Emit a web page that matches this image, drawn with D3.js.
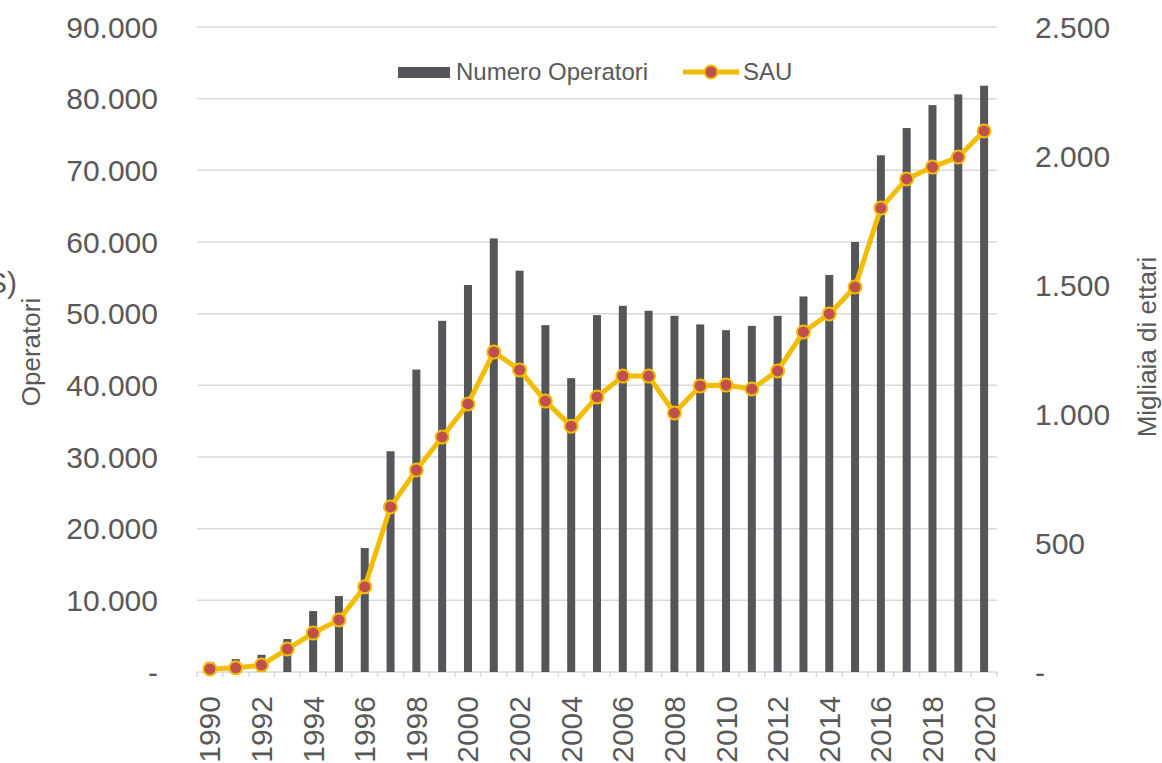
<!DOCTYPE html>
<html>
<head>
<meta charset="utf-8">
<script src="https://cdn.jsdelivr.net/npm/d3@7"></script>
<style>
  body { margin: 0; background: #fff; }
  svg text { font-family: "Liberation Sans", Arial, sans-serif; fill: #595959; }
</style>
</head>
<body>
<div id="chart"></div>
<script>
var years = d3.range(1990, 2021);
var operatori = [1400, 1800, 2400, 4600, 8500, 10600, 17300, 30800, 42200, 49000,
                 54000, 60500, 56000, 48400, 41000, 49800, 51100, 50400, 49700, 48500,
                 47700, 48300, 49700, 52400, 55400, 60000, 72100, 75900, 79100, 80600, 81800];
var sau = [12, 16, 27, 89, 151, 202, 330, 640, 783, 911,
           1039, 1240, 1171, 1050, 953, 1066, 1147, 1147, 1004, 1109,
           1112, 1097, 1167, 1318, 1388, 1492, 1798, 1911, 1957, 1996, 2097];
var leftTicks = [0, 10000, 20000, 30000, 40000, 50000, 60000, 70000, 80000, 90000];
var rightTicks = [0, 500, 1000, 1500, 2000, 2500];

var width = 1162, height = 763;
var margin = {top: 27, right: 165, bottom: 91, left: 197};
var barColor = "#55565a", lineColor = "#f2bd00", dotColor = "#c0504d", gridColor = "#d9d9d9";

var svg = d3.select("#chart").append("svg")
    .attr("width", width)
    .attr("height", height);

var x = d3.scaleBand()
    .domain(years)
    .range([margin.left, width - margin.right]);
var yL = d3.scaleLinear().domain([0, 90000]).range([height - margin.bottom, margin.top]);
var yR = d3.scaleLinear().domain([0, 2500]).range([height - margin.bottom, margin.top]);

// dot as thousands separator, zero shown as "-"
var it = d3.formatLocale({decimal: ",", thousands: ".", grouping: [3], currency: ["", "€"]});
var fmt = function(v) { return v === 0 ? "-" : it.format(",d")(v); };

// gridlines
svg.append("g").selectAll("line")
    .data(leftTicks)
    .enter().append("line")
    .attr("x1", margin.left).attr("x2", width - margin.right)
    .attr("y1", function(d) { return yL(d); })
    .attr("y2", function(d) { return yL(d); })
    .attr("stroke", gridColor)
    .attr("stroke-width", 1.5);

// x tick marks between categories
svg.append("g").selectAll("line")
    .data(years.concat([2021]))
    .enter().append("line")
    .attr("x1", function(d, i) { return margin.left + i * x.step(); })
    .attr("x2", function(d, i) { return margin.left + i * x.step(); })
    .attr("y1", yL(0)).attr("y2", yL(0) + 5)
    .attr("stroke", gridColor)
    .attr("stroke-width", 1.5);

// bars
var bw = 8;
svg.append("g").selectAll("rect")
    .data(operatori)
    .enter().append("rect")
    .attr("x", function(d, i) { return x(years[i]) + x.bandwidth() / 2 - bw / 2; })
    .attr("y", function(d) { return yL(d); })
    .attr("width", bw)
    .attr("height", function(d) { return yL(0) - yL(d); })
    .attr("fill", barColor);

// left axis labels
svg.append("g").selectAll("text")
    .data(leftTicks)
    .enter().append("text")
    .attr("x", 158)
    .attr("y", function(d) { return yL(d); })
    .attr("dy", "0.35em")
    .attr("text-anchor", "end")
    .style("font-size", "30px")
    .text(fmt);

// right axis labels
svg.append("g").selectAll("text")
    .data(rightTicks)
    .enter().append("text")
    .attr("x", 1035)
    .attr("y", function(d) { return yR(d); })
    .attr("dy", "0.35em")
    .attr("text-anchor", "start")
    .style("font-size", "30px")
    .text(fmt);

// x labels, even years only
svg.append("g").selectAll("text")
    .data(years.filter(function(d) { return d % 2 === 0; }))
    .enter().append("text")
    .attr("transform", function(d) {
        return "translate(" + (x(d) + x.bandwidth() / 2) + "," + (yL(0) + 24) + ") rotate(-90)";
    })
    .attr("dy", "0.35em")
    .attr("text-anchor", "end")
    .style("font-size", "30px")
    .text(function(d) { return d; });

// SAU line
var line = d3.line()
    .x(function(d, i) { return x(years[i]) + x.bandwidth() / 2; })
    .y(function(d) { return yR(d); });
svg.append("path")
    .datum(sau)
    .attr("d", line)
    .attr("fill", "none")
    .attr("stroke", lineColor)
    .attr("stroke-width", 5)
    .attr("stroke-linejoin", "round");
svg.append("g").selectAll("circle")
    .data(sau)
    .enter().append("circle")
    .attr("cx", function(d, i) { return x(years[i]) + x.bandwidth() / 2; })
    .attr("cy", function(d) { return yR(d); })
    .attr("r", 6.5)
    .attr("fill", dotColor)
    .attr("stroke", lineColor)
    .attr("stroke-width", 2);

// axis titles
svg.append("text")
    .attr("transform", "translate(40,352) rotate(-90)")
    .attr("text-anchor", "middle")
    .style("font-size", "26px")
    .text("Operatori");
svg.append("text")
    .attr("x", 17).attr("y", 293)
    .attr("text-anchor", "end")
    .style("font-size", "30px")
    .text("(S)");
svg.append("text")
    .attr("transform", "translate(1156,347) rotate(-90)")
    .attr("text-anchor", "middle")
    .style("font-size", "26px")
    .text("Migliaia di ettari");

// legend
var lg = svg.append("g");
lg.append("rect").attr("x", 398).attr("y", 67).attr("width", 52).attr("height", 11).attr("fill", barColor);
lg.append("text").attr("x", 456).attr("y", 72).attr("dy", "0.35em").style("font-size", "24px").text("Numero Operatori");
lg.append("line").attr("x1", 683).attr("x2", 739).attr("y1", 72).attr("y2", 72)
    .attr("stroke", lineColor).attr("stroke-width", 5);
lg.append("circle").attr("cx", 711).attr("cy", 72).attr("r", 6.5)
    .attr("fill", dotColor).attr("stroke", lineColor).attr("stroke-width", 2);
lg.append("text").attr("x", 743).attr("y", 72).attr("dy", "0.35em").style("font-size", "24px").text("SAU");
</script>
</body>
</html>
